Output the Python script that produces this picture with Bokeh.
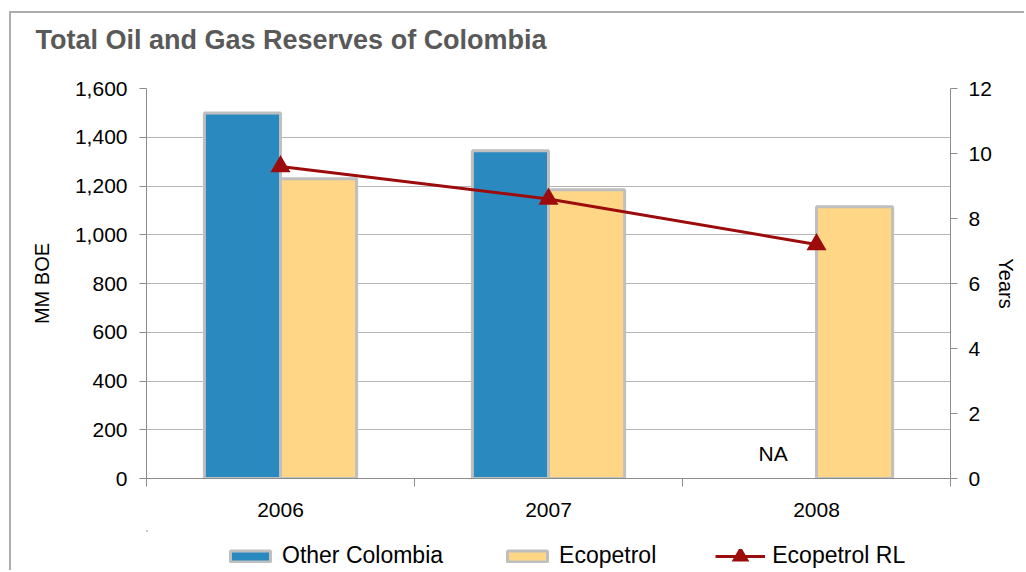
import numpy as np
from bokeh.plotting import figure
from bokeh.layouts import column
from bokeh.models import (Range1d, LinearAxis, FixedTicker, NumeralTickFormatter,
                          Legend, LegendItem, Label, ColumnDataSource)
from bokeh.transform import dodge
from bokeh.embed import file_html
from bokeh.resources import INLINE

# ---- data ----
years = ["2006", "2007", "2008"]
other_colombia = [1500, 1345, float("nan")]   # 2008 not available (NA)
ecopetrol = [1230, 1185, 1115]
ecopetrol_rl = [9.6, 8.6, 7.2]
left_ticks = [0, 200, 400, 600, 800, 1000, 1200, 1400, 1600]
right_ticks = [0, 2, 4, 6, 8, 10, 12]
series_names = ["Other Colombia", "Ecopetrol", "Ecopetrol RL"]
title_text = "Total Oil and Gas Reserves of Colombia"
na_text = "NA"

FONT = "Liberation Sans"
BLUE = "#2A8AC0"
YELLOW = "#FFD685"
RED = "#9C0C0C"
BORDER = "#BFBFBF"
AXIS = "#8C8C8C"

xpos = np.arange(len(years)) + 0.5
src = ColumnDataSource(dict(x=xpos, other=other_colombia, eco=ecopetrol, rl=ecopetrol_rl))

def strip(height):
    # helper strip (title / legend); its visible range lies away from the data
    f = figure(width=1015, height=height, output_backend="svg", toolbar_location=None, tools="",
               x_range=Range1d(8, 9), y_range=Range1d(-30, -29),
               x_axis_type=None, y_axis_type=None,
               min_border_left=0, min_border_right=0, min_border_top=0, min_border_bottom=0)
    f.grid.visible = False
    f.outline_line_color = None
    f.background_fill_color = "white"
    f.border_fill_color = "white"
    return f

# ---- title strip ----
tf = strip(60)
tf.title.text = title_text
tf.title.align = "left"
tf.title.vertical_align = "bottom"
tf.title.offset = -111
tf.title.standoff = 19
tf.title.text_font = FONT
tf.title.text_font_style = "bold"
tf.title.text_font_size = "27px"
tf.title.text_color = "#595959"

# ---- main chart ----
p = figure(width=1015, height=457, output_backend="svg", toolbar_location=None, tools="",
           title=None,
           x_range=Range1d(0, len(years)), y_range=Range1d(left_ticks[0], left_ticks[-1]),
           min_border_left=135, min_border_right=76, min_border_top=15, min_border_bottom=52)
p.extra_y_ranges = {"years": Range1d(right_ticks[0], right_ticks[-1])}
p.outline_line_color = None
p.background_fill_color = "white"
p.border_fill_color = "white"

bw = 0.284
bar_style = dict(line_color=BORDER, line_width=3)
tri_style = dict(marker="triangle", fill_color=RED, line_color=RED, line_width=7, line_join="miter")
r_other = p.vbar(x=dodge("x", -bw / 2), top="other", width=bw, source=src, fill_color=BLUE, **bar_style)
r_eco = p.vbar(x=dodge("x", bw / 2), top="eco", width=bw, source=src, fill_color=YELLOW, **bar_style)
r_line = p.line("x", "rl", source=src, y_range_name="years", line_color=RED, line_width=3)
r_tri = p.scatter("x", "rl", source=src, y_range_name="years", size=8, **tri_style)

p.xgrid.visible = False
p.ygrid.grid_line_color = "#B4B4B4"
p.ygrid.grid_line_width = 1

xa = p.xaxis[0]
xa.ticker = FixedTicker(ticks=list(xpos), minor_ticks=list(np.arange(len(years) + 1)))
xa.major_label_overrides = {float(v): y for v, y in zip(xpos, years)}
xa.major_tick_out = 0
xa.major_tick_in = 0
xa.minor_tick_out = 8
xa.minor_tick_in = 0
xa.minor_tick_line_color = AXIS
xa.axis_line_color = AXIS
xa.major_label_standoff = 16
xa.major_label_text_font = FONT
xa.major_label_text_font_size = "21px"
xa.major_label_text_color = "black"

ya = p.yaxis[0]
ya.ticker = FixedTicker(ticks=left_ticks)
ya.formatter = NumeralTickFormatter(format="0,0")
ya.axis_label = "MM BOE"
ya.major_tick_out = 7
ya.major_tick_in = 0
ya.minor_tick_out = 0
ya.minor_tick_in = 0
ya.major_tick_line_color = AXIS
ya.axis_line_color = AXIS
ya.major_label_standoff = 12
ya.axis_label_standoff = 19
ya.major_label_text_font = FONT
ya.major_label_text_font_size = "21px"
ya.major_label_text_color = "black"
ya.axis_label_text_font = FONT
ya.axis_label_text_font_size = "20px"
ya.axis_label_text_font_style = "normal"
ya.axis_label_text_color = "black"

ra = LinearAxis(y_range_name="years", ticker=FixedTicker(ticks=right_ticks), axis_label="Years")
ra.major_tick_out = 7
ra.major_tick_in = 0
ra.minor_tick_out = 0
ra.minor_tick_in = 0
ra.major_tick_line_color = AXIS
ra.axis_line_color = AXIS
ra.major_label_standoff = 11
ra.axis_label_standoff = 0
ra.major_label_text_font = FONT
ra.major_label_text_font_size = "21px"
ra.major_label_text_color = "black"
ra.axis_label_text_font = FONT
ra.axis_label_text_font_size = "20px"
ra.axis_label_text_font_style = "normal"
ra.axis_label_text_color = "black"
p.add_layout(ra, "right")

i08 = years.index("2008")
p.add_layout(Label(x=xpos[i08] - bw / 2 - 0.02, y=103, text=na_text, text_font=FONT,
                   text_font_size="21px", text_color="black", text_align="center",
                   text_baseline="alphabetic"))

# ---- legend strip (glyph proxies lie outside the strip's visible range) ----
lf = strip(42)
l_other = lf.vbar(x="x", top="other", width=bw, source=src, fill_color=BLUE, **bar_style)
l_eco = lf.vbar(x="x", top="eco", width=bw, source=src, fill_color=YELLOW, **bar_style)
l_line = lf.line("x", "rl", source=src, line_color=RED, line_width=3)
l_tri = lf.scatter("x", "rl", source=src, size=8, **tri_style)

legend = Legend(items=[LegendItem(label=series_names[0], renderers=[l_other]),
                       LegendItem(label=series_names[1], renderers=[l_eco]),
                       LegendItem(label=series_names[2], renderers=[l_line, l_tri])],
                location=(79, 3), orientation="horizontal",
                glyph_width=50, glyph_height=14, label_standoff=7,
                padding=0, margin=0, spacing=59,
                border_line_alpha=0, background_fill_alpha=0,
                label_text_font=FONT, label_text_font_size="23px",
                label_text_color="black")
lf.add_layout(legend, "center")

layout = column(tf, p, lf, spacing=0, margin=(13, 0, 0, 11),
                styles={"box-shadow": "-2px -2px 0 0 #ADADAD"})

open("out.html", "w").write(file_html(layout, INLINE))
